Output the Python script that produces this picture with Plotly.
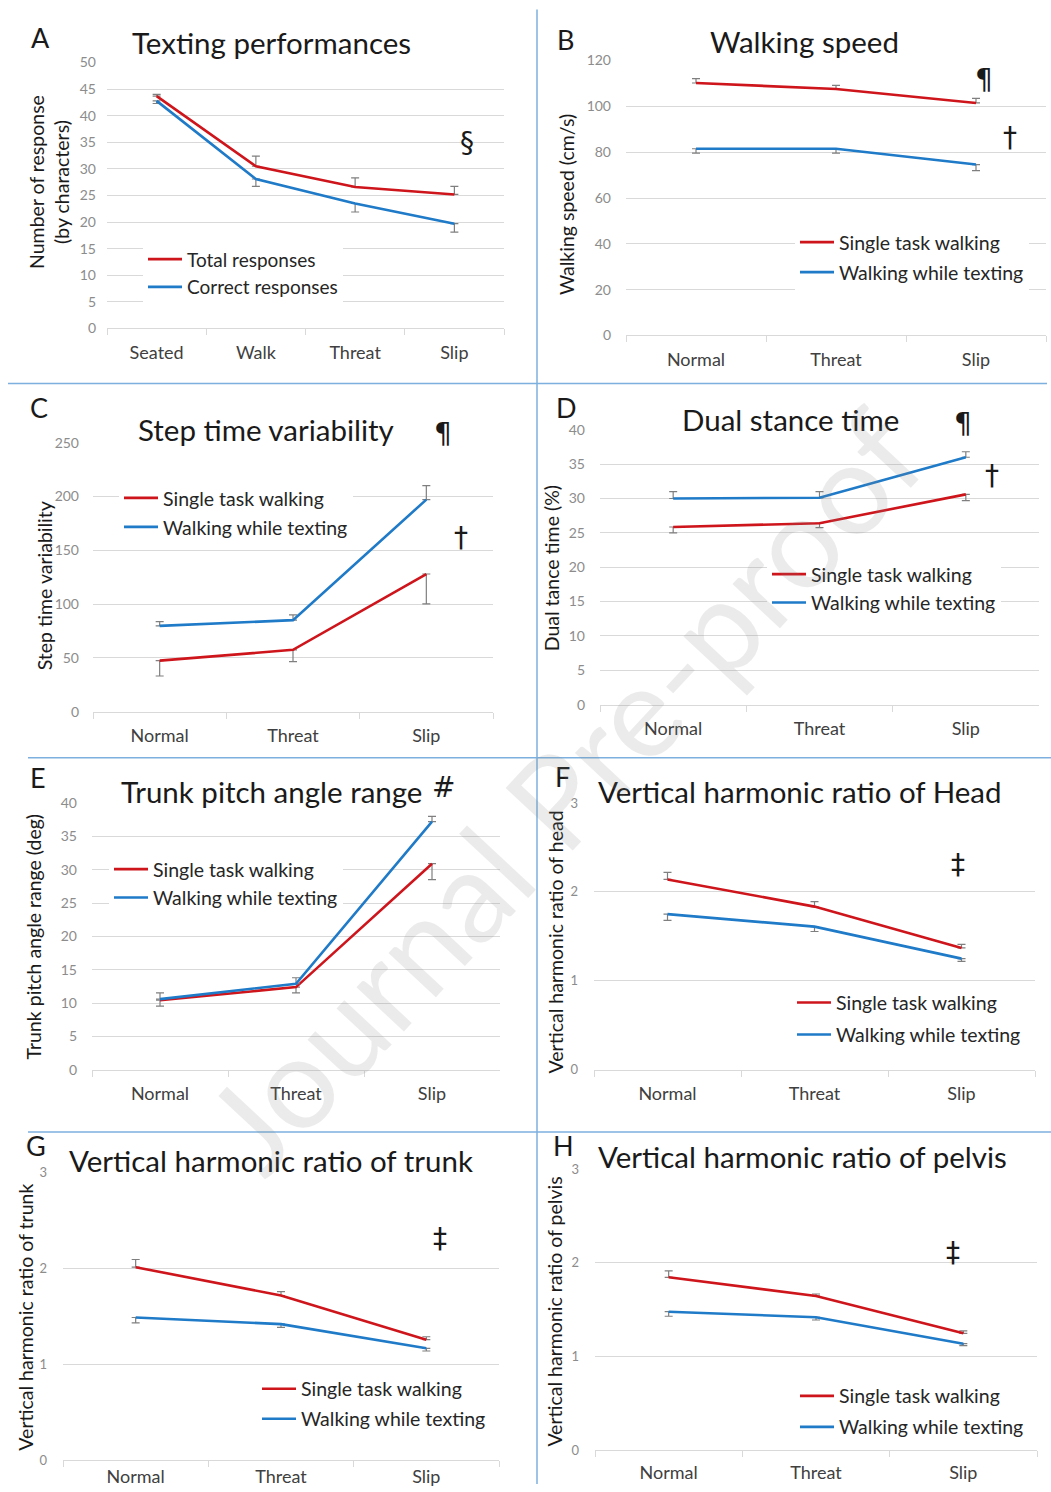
import plotly.graph_objects as go

W, H = 1051, 1492
RED = '#CE151C'
BLUE = '#1F7AC8'
FONT = 'Lato'
GRID = '#D9D9D9'

# ---------------- data ----------------
a_cats = ['Seated', 'Walk', 'Threat', 'Slip']
a_total = [43.7, 30.5, 26.6, 25.2]
a_total_err = [0.3, 1.9, 1.7, 1.5]
a_correct = [42.8, 28.1, 23.5, 19.7]
a_correct_err = [0.5, 1.4, 1.6, 1.6]

cats3 = ['Normal', 'Threat', 'Slip']

b_single = [110.2, 107.6, 101.5]
b_single_err = [1.9, 1.6, 2.0]
b_text = [81.5, 81.5, 74.6]
b_text_err = [1.9, 1.9, 2.6]

c_single = [47.5, 57.5, 128.0]
c_single_err = [14.3, 11.0, 27.7]
c_text = [79.8, 85.1, 197.2]
c_text_err = [4.0, 5.0, 13.0]

d_single = [25.85, 26.4, 30.6]
d_single_err = [0.85, 0.65, 0.9]
d_text = [30.0, 30.1, 36.0]
d_text_err = [1.0, 0.9, 0.8]

e_single = [10.45, 12.4, 30.9]
e_single_err = [0.9, 0.85, 2.4]
e_text = [10.6, 12.9, 37.2]
e_text_err = [0.95, 0.9, 0.8]

f_single = [2.14, 1.835, 1.37]
f_single_err = [0.08, 0.055, 0.04]
f_text = [1.75, 1.61, 1.25]
f_text_err = [0.07, 0.055, 0.03]

g_single = [2.01, 1.715, 1.255]
g_single_err = [0.08, 0.04, 0.03]
g_text = [1.486, 1.417, 1.165]
g_text_err = [0.056, 0.034, 0.028]

h_single = [1.845, 1.646, 1.247]
h_single_err = [0.068, 0.021, 0.025]
h_text = [1.478, 1.418, 1.136]
h_text_err = [0.049, 0.029, 0.021]

# ---------------- panel layout specs (pixels) ----------------
panels = [
    dict(letter='A', title='Texting performances', cats=a_cats,
         s1=(a_total, a_total_err, 'Total responses', 1),
         s2=(a_correct, a_correct_err, 'Correct responses', -1),
         box=(107, 504, 63, 328), rng=[0, 50], dtick=5, ystand=10, xstand=8,
         ytitle='Number of response<br>(by characters)', ytpos=(49, 182),
         tpos=(271, 43), lpos=(40, 38), leg=(148, 262, 24), lfont=19,
         marks=[('§', 467, 143)]),
    dict(letter='B', title='Walking speed', cats=cats3,
         s1=(b_single, b_single_err, 'Single task walking', 1),
         s2=(b_text, b_text_err, 'Walking while texting', -1),
         box=(626, 1046, 61, 335), rng=[0, 120], dtick=20, ystand=14, xstand=8,
         ytitle='Walking speed (cm/s)', ytpos=(566, 205),
         tpos=(805, 42), lpos=(565, 40), leg=(800, 245, 30), lfont=19.5,
         marks=[('¶', 984, 80), ('†', 1010, 138)]),
    dict(letter='C', title='Step time variability', cats=cats3,
         s1=(c_single, c_single_err, 'Single task walking', -1),
         s2=(c_text, c_text_err, 'Walking while texting', 1),
         box=(93, 493, 442, 710), rng=[0, 250], dtick=50, ystand=13, xstand=8,
         ytitle='Step time variability', ytpos=(44, 585),
         tpos=(266, 429), lpos=(39, 407), leg=(124, 500, 29), lfont=19.5,
         marks=[('¶', 443, 433), ('†', 461, 536)]),
    dict(letter='D', title='Dual stance time', cats=cats3,
         s1=(d_single, d_single_err, 'Single task walking', -1),
         s2=(d_text, d_text_err, 'Walking while texting', 1),
         box=(600, 1039, 429, 703), rng=[0, 40], dtick=5, ystand=14, xstand=8,
         ytitle='Dual tance time (%)', ytpos=(551, 567),
         tpos=(790, 419), lpos=(566, 407), leg=(772, 576, 28), lfont=19.5,
         marks=[('¶', 963, 423), ('†', 992, 475)]),
    dict(letter='E', title='Trunk pitch angle range', cats=cats3,
         s1=(e_single, e_single_err, 'Single task walking', -1),
         s2=(e_text, e_text_err, 'Walking while texting', 1),
         box=(92, 500, 801, 1067), rng=[0, 40], dtick=5, ystand=14, xstand=8,
         ytitle='Trunk pitch angle range (deg)', ytpos=(33, 935),
         tpos=(271, 790), lpos=(38, 776), leg=(114, 870, 28), lfont=19.5,
         marks=[('#', 443, 786)]),
    dict(letter='F', title='Vertical harmonic ratio of Head', cats=cats3,
         s1=(f_single, f_single_err, 'Single task walking', 1),
         s2=(f_text, f_text_err, 'Walking while texting', -1),
         box=(594, 1035, 801, 1067), rng=[0, 3], dtick=1, ystand=15, xstand=8,
         ytitle='Vertical harmonic ratio of head', ytpos=(555, 940),
         tpos=(800, 790), lpos=(562, 775), leg=(797, 1003, 32), lfont=19.5,
         marks=[('‡', 958, 862)]),
    dict(letter='G', title='Vertical harmonic ratio of trunk', cats=cats3,
         s1=(g_single, g_single_err, 'Single task walking', 1),
         s2=(g_text, g_text_err, 'Walking while texting', -1),
         box=(63, 499, 1169, 1456), rng=[0, 3], dtick=1, ystand=15, xstand=0,
         ytitle='Vertical harmonic ratio of trunk', ytpos=(26, 1314),
         tpos=(271, 1157), lpos=(36, 1142), leg=(262, 1388, 30), lfont=19.5,
         marks=[('‡', 440, 1235)]),
    dict(letter='H', title='Vertical harmonic ratio of pelvis', cats=cats3,
         s1=(h_single, h_single_err, 'Single task walking', 1),
         s2=(h_text, h_text_err, 'Walking while texting', -1),
         box=(595, 1037, 1166, 1446), rng=[0, 3], dtick=1, ystand=15, xstand=6,
         ytitle='Vertical harmonic ratio of pelvis', ytpos=(555, 1308),
         tpos=(802, 1153), lpos=(563, 1142), leg=(800, 1395, 31), lfont=19.5,
         marks=[('‡', 953, 1249)]),
]

# the returned picture places page row y at 0.9854*y + 9.6; positions below are
# given in picture pixels and converted back to page pixels here
Y_OFF, Y_SC = 9.6, 0.9854
LEG_ITEM_W = 34


def px(x):
    return x / W


def py(y):
    yf = (y - Y_OFF) / Y_SC
    yf = min(max(yf, 0), H)
    return 1 - yf / H


fig = go.Figure()
annotations = []
layout = dict(
    width=W, height=H, margin=dict(l=0, r=0, t=0, b=0),
    paper_bgcolor='white', plot_bgcolor='white',
    font=dict(family=FONT, color='#262626'),
)

for i, p in enumerate(panels, start=1):
    xa = 'x' if i == 1 else f'x{i}'
    ya = 'y' if i == 1 else f'y{i}'
    lg = 'legend' if i == 1 else f'legend{i}'
    x0, x1, y0, y1 = p['box']
    n = len(p['cats'])
    for (vals, err, name, direction), color in ((p['s1'], RED), (p['s2'], BLUE)):
        zeros = [0] * len(vals)
        fig.add_trace(go.Scatter(
            x=p['cats'], y=vals, name=name, mode='lines',
            line=dict(color=color, width=2.6),
            error_y=dict(type='data', symmetric=False,
                         array=err if direction > 0 else zeros,
                         arrayminus=zeros if direction > 0 else err,
                         color='#7F7F7F', thickness=1.2, width=4),
            xaxis=xa, yaxis=ya, legend=lg, legendgroup=f'{p["letter"]}{name}',
            showlegend=True,
        ))
    layout['xaxis' if i == 1 else f'xaxis{i}'] = dict(
        domain=[px(x0), px(x1)], anchor=ya, type='category',
        range=[-0.5, n - 0.5], tickson='boundaries', ticks='outside',
        ticklen=6, tickcolor=GRID, showline=True, linecolor=GRID,
        linewidth=1, showgrid=False, zeroline=False,
        tickfont=dict(size=18, color='#404040', family=FONT),
        ticklabelstandoff=p['xstand'], fixedrange=True,
    )
    layout['yaxis' if i == 1 else f'yaxis{i}'] = dict(
        domain=[py(y1), py(y0)], anchor=xa, range=p['rng'], dtick=p['dtick'],
        showgrid=True, gridcolor=GRID, gridwidth=1, zeroline=False,
        showline=False, ticks='', tickfont=dict(size=14 if p['dtick'] > 1 else 13,
                                               color='#8C8C8C', family=FONT),
        ticklabelstandoff=p['ystand'], fixedrange=True,
    )
    lx, ly, gap = p['leg']
    item_h = p['lfont'] * 1.3 + 3
    layout[lg] = dict(
        x=px(lx - 5), y=py(ly - item_h / 2 - 8), xanchor='left', yanchor='top',
        bgcolor='white', borderwidth=0, tracegroupgap=max(0, gap - item_h),
        itemwidth=LEG_ITEM_W,
        font=dict(size=p['lfont'], color='#262626', family=FONT),
        itemclick=False, itemdoubleclick=False,
    )
    tx, ty = p['tpos']
    annotations.append(dict(text=p['title'], x=px(tx), y=py(ty), xref='paper', yref='paper',
                            showarrow=False, xanchor='center', yanchor='middle',
                            font=dict(size=29.5, color='#1A1A1A', family=FONT)))
    lx2, ly2 = p['lpos']
    annotations.append(dict(text=p['letter'], x=px(lx2), y=py(ly2), xref='paper', yref='paper',
                            showarrow=False, xanchor='center', yanchor='middle',
                            font=dict(size=27, color='#1A1A1A', family=FONT)))
    yx, yy = p['ytpos']
    annotations.append(dict(text=p['ytitle'], x=px(yx), y=py(yy), xref='paper', yref='paper',
                            showarrow=False, xanchor='center', yanchor='middle', textangle=-90,
                            font=dict(size=19.5, color='#1A1A1A', family=FONT)))
    for sym, mx, my in p['marks']:
        annotations.append(dict(text=sym, x=px(mx), y=py(my), xref='paper', yref='paper',
                                showarrow=False, xanchor='center', yanchor='middle',
                                font=dict(size=28, color='#1A1A1A', family='DejaVu Sans')))

annotations.append(dict(text='Journal Pre-proof', x=px(562), y=py(788), xref='paper', yref='paper',
                        showarrow=False, textangle=-47, xanchor='center', yanchor='middle',
                        font=dict(size=128, color='rgba(128,128,128,0.16)', family=FONT)))

SEP = '#7DB0DE'
shapes = [
    dict(type='line', xref='paper', yref='paper', x0=px(537), x1=px(537), y0=py(10), y1=py(1492),
         line=dict(color=SEP, width=1.5)),
    dict(type='line', xref='paper', yref='paper', x0=px(8), x1=px(1047), y0=py(383), y1=py(383),
         line=dict(color=SEP, width=1.5)),
    dict(type='line', xref='paper', yref='paper', x0=px(28), x1=px(1051), y0=py(756), y1=py(756),
         line=dict(color=SEP, width=1.5)),
    dict(type='line', xref='paper', yref='paper', x0=px(28), x1=px(1051), y0=py(1129), y1=py(1129),
         line=dict(color=SEP, width=1.5)),
]

layout['annotations'] = annotations
layout['shapes'] = shapes
fig.update_layout(**layout)

fig.write_html('out.html', config={'displayModeBar': False},
               post_script="document.body.style.margin='0px'; document.documentElement.style.overflow='hidden';")
